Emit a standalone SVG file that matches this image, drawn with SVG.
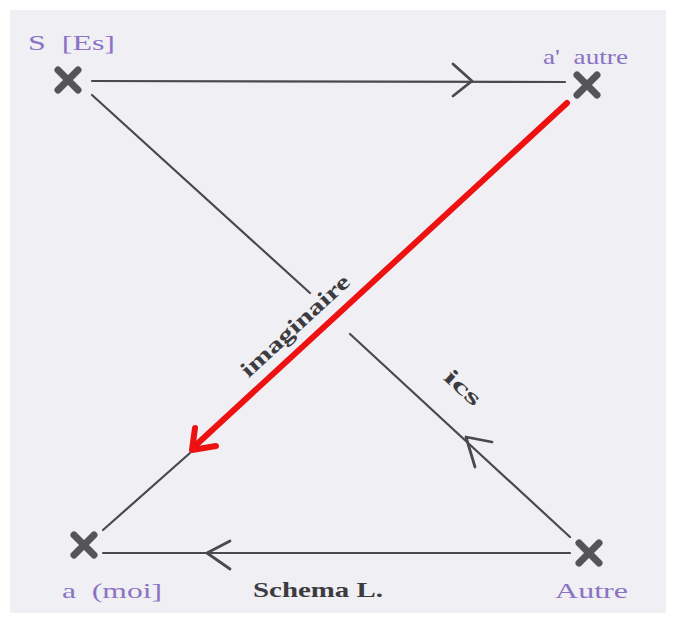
<svg xmlns="http://www.w3.org/2000/svg" width="673" height="619" viewBox="0 0 673 619">
<defs>
<style>
.bg{fill:#efeff4}
.x{stroke:#555559;stroke-width:7;stroke-linecap:round;fill:none}
.ln{stroke:#4a4a4e;stroke-width:2.2;fill:none;stroke-linecap:round}
.chev{stroke:#4a4a4e;stroke-width:2.8;fill:none;stroke-linecap:round;stroke-linejoin:round}
.lbl{font-family:"Liberation Serif","DejaVu Serif",serif;font-size:22px;fill:#8b73c4;white-space:pre}
.txt{font-family:"Liberation Serif","DejaVu Serif",serif;font-size:22px;fill:#3c3c40}
.red{stroke:#ee1111;stroke-width:6;fill:none;stroke-linecap:round;stroke-linejoin:round}
</style>
</defs>
<rect width="673" height="619" fill="#ffffff"/>
<rect class="bg" x="10" y="10" width="656" height="603"/>
<g id="connectors">
<line class="ln" x1="92" y1="81" x2="565" y2="82"/>
<polyline class="chev" points="453,64 472,81 453,96"/>
<line class="ln" x1="92" y1="95" x2="310" y2="293"/>
<line class="ln" x1="350" y1="334" x2="570" y2="537"/>
<polyline class="chev" points="492,442 466,437 475,467"/>
<line class="ln" x1="103" y1="553" x2="570" y2="553"/>
<polyline class="chev" points="230,541 207,553 230,569"/>
<line class="ln" x1="190" y1="453" x2="103" y2="530"/>
<line class="red" x1="567" y1="103" x2="196" y2="445"/>
<polyline class="red" points="195,428 192,450 216,446"/>
<text class="txt" transform="translate(300,331) rotate(-42.6)" text-anchor="middle" textLength="140" lengthAdjust="spacingAndGlyphs" font-weight="bold">imaginaire</text>
<text class="txt" transform="translate(458,393) rotate(42.3)" text-anchor="middle" textLength="42" lengthAdjust="spacingAndGlyphs" font-weight="bold">ics</text>
</g>
<g id="S">
<path class="x" d="M58,70 L78,90 M78,70 L58,90"/>
<text class="lbl" x="28" y="50" xml:space="preserve" textLength="87" lengthAdjust="spacingAndGlyphs">S  [Es]</text>
</g>
<g id="a-prime">
<path class="x" d="M577,75 L597,95 M597,75 L577,95"/>
<text class="lbl" x="543" y="64" xml:space="preserve" textLength="85" lengthAdjust="spacingAndGlyphs">a'  autre</text>
</g>
<g id="a">
<path class="x" d="M74,535 L94,555 M94,535 L74,555"/>
<text class="lbl" x="62" y="598" xml:space="preserve" textLength="100" lengthAdjust="spacingAndGlyphs">a  (moi]</text>
</g>
<g id="Autre">
<path class="x" d="M579,543 L599,563 M599,543 L579,563"/>
<text class="lbl" x="555" y="598" textLength="73" lengthAdjust="spacingAndGlyphs">Autre</text>
</g>
<g id="title">
<text class="txt" x="253" y="597" textLength="130" lengthAdjust="spacingAndGlyphs" font-weight="bold">Schema L.</text>
</g>
</svg>
